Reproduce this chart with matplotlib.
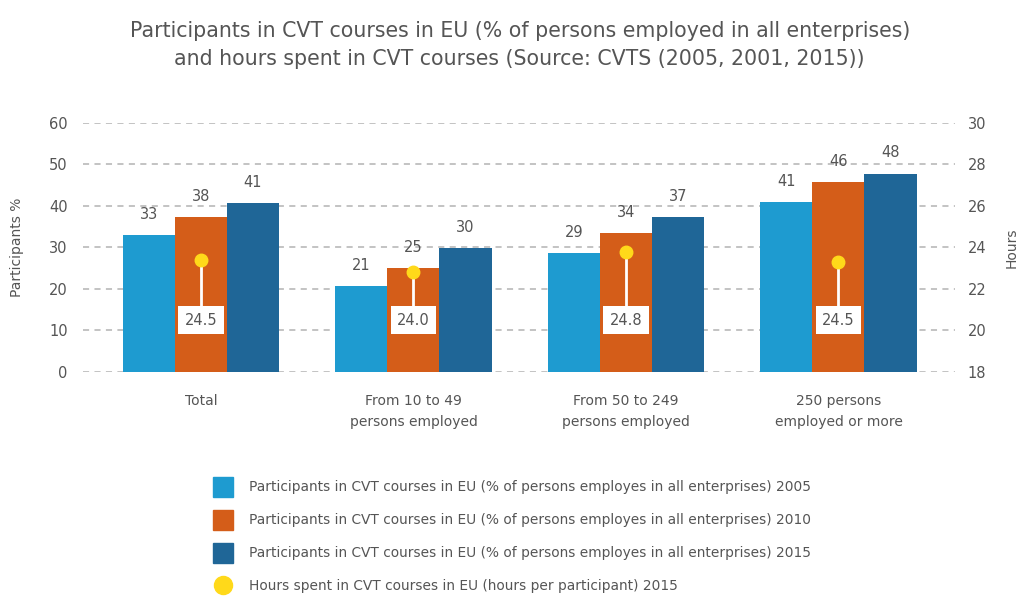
import numpy as np
import matplotlib

matplotlib.use("Agg")
import matplotlib.pyplot as plt
from matplotlib.lines import Line2D

# data
categories = ["Total", "From 10 to 49\npersons employed",
              "From 50 to 249\npersons employed", "250 persons\nemployed or more"]
p2005 = [33.0, 20.7, 28.7, 41.0]
p2010 = [37.3, 25.1, 33.5, 45.8]
p2015 = [40.7, 29.9, 37.3, 47.8]
p2005_lbl = [33, 21, 29, 41]
p2010_lbl = [38, 25, 34, 46]
p2015_lbl = [41, 30, 37, 48]
hours_marker = [23.4, 22.8, 23.8, 23.3]   # where the dot is drawn (right axis)
hours_lbl = ["24.5", "24.0", "24.8", "24.5"]

left_ticks = [0, 10, 20, 30, 40, 50, 60]
right_ticks = [18, 20, 22, 24, 26, 28, 30]

C05, C10, C15, CDOT = "#1e9bd0", "#d45d19", "#1f6697", "#ffd91a"
TXT = "#555555"

series_names = [
    "Participants in CVT courses in EU (% of persons employes in all enterprises) 2005",
    "Participants in CVT courses in EU (% of persons employes in all enterprises) 2010",
    "Participants in CVT courses in EU (% of persons employes in all enterprises) 2015",
    "Hours spent in CVT courses in EU (hours per participant) 2015",
]

plt.rcParams["font.family"] = ["DejaVu Sans"]

fig = plt.figure(figsize=(10.19, 5.96), dpi=100)
ax = fig.add_axes([0.0815, 0.376, 0.856, 0.4178])
x = np.arange(len(categories))
w = 0.245

for off, vals, lbls, c in [(-w, p2005, p2005_lbl, C05), (0, p2010, p2010_lbl, C10),
                           (w, p2015, p2015_lbl, C15)]:
    b = ax.bar(x + off, vals, width=w, color=c, zorder=2)
    ax.bar_label(b, labels=[str(v) for v in lbls], padding=9.5, fontsize=10.5, color=TXT)

ax.set_xlim(-0.555, 3.55)
ax.set_ylim(0, 60)
ax.set_yticks(left_ticks)
ax.set_xticks(x)
ax.set_xticklabels(categories, fontsize=10, color=TXT, linespacing=1.6)
ax.tick_params(axis="x", length=0, pad=16)
ax.tick_params(axis="y", length=0, pad=11, labelsize=10.5, labelcolor=TXT)
ax.grid(axis="y", color="#b3b3b3", ls=(0, (4, 3.5)), lw=1.1, zorder=0)
ax.set_axisbelow(True)
for s in ax.spines.values():
    s.set_visible(False)
ax.set_ylabel("Participants %", fontsize=10, color=TXT, labelpad=18)

ax2 = ax.twinx()
ax2.set_ylim(18, 30)
ax2.set_yticks(right_ticks)
ax2.tick_params(axis="y", length=0, pad=9, labelsize=10.5, labelcolor=TXT)
for s in ax2.spines.values():
    s.set_visible(False)
ax2.set_ylabel("Hours", fontsize=10, color=TXT, labelpad=13)

label_y = 20.5
for xi, hv, hl in zip(x, hours_marker, hours_lbl):
    ax2.plot([xi, xi], [label_y, hv], color="white", lw=2, zorder=3)
    ax2.text(xi, label_y, hl, ha="center", va="center", fontsize=10.5, color=TXT,
             zorder=4, bbox=dict(boxstyle="square,pad=0.45", fc="white", ec="none"))
ax2.plot(x, hours_marker, "o", ms=9, color=CDOT, ls="none", zorder=5)

fig.text(0.51, 0.925, "Participants in CVT courses in EU (% of persons employed in all enterprises)\n"
         "and hours spent in CVT courses (Source: CVTS (2005, 2001, 2015))",
         ha="center", va="center", fontsize=14.8, color=TXT, linespacing=1.5)

handles = [Line2D([], [], marker="s", ms=14, color=c, ls="none") for c in (C05, C10, C15)]
handles.append(Line2D([], [], marker="o", ms=13, color=CDOT, ls="none"))
fig.legend(handles, series_names, loc="upper left", bbox_to_anchor=(0.205, 0.194),
           frameon=False, fontsize=9.9, labelcolor=TXT, borderpad=0, borderaxespad=0,
           handlelength=2.0, handletextpad=0.9, labelspacing=1.38)

fig.savefig("out.png", dpi=100)
